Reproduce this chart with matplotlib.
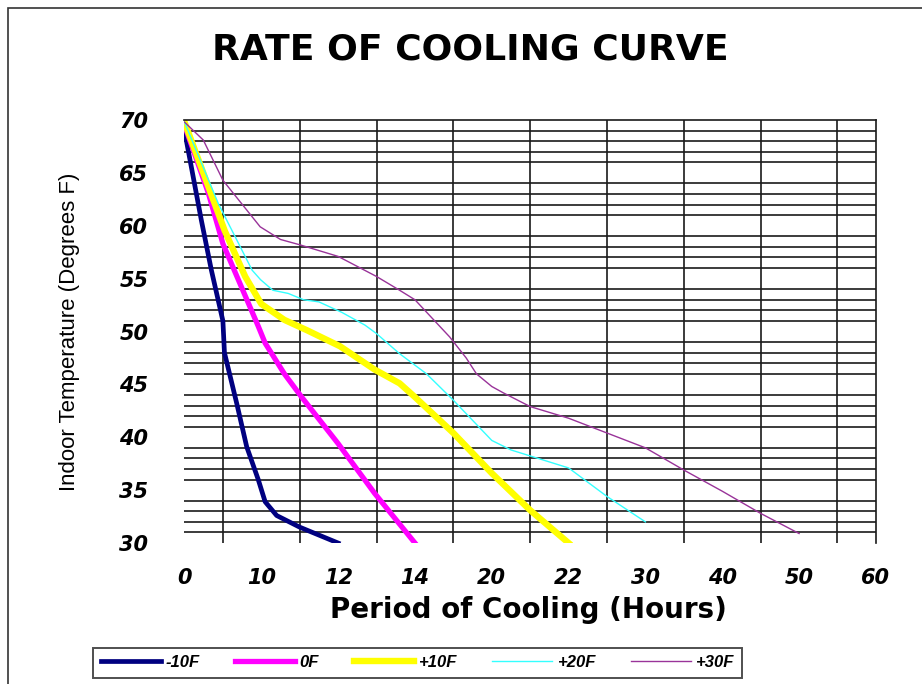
import numpy as np
import matplotlib
matplotlib.use('Agg')
import matplotlib.pyplot as plt
from matplotlib.patches import Rectangle

# x axis labels are not evenly spaced in hours, each label sits two gridlines apart
hour_ticks = [0, 10, 12, 14, 20, 22, 30, 40, 50, 60]
temp_ticks = [70, 65, 60, 55, 50, 45, 40, 35, 30]

labels = ['-10F', '0F', '+10F', '+20F', '+30F']
colors = ['#000080', '#FF00FF', '#FFFF00', '#33FFFF', '#993399']
widths = [3.4, 3.8, 4.6, 1.0, 1.0]

m10_hours = [0, 2.2, 3.5, 5, 5.2, 6.8, 8.1, 9.6, 10.1, 10.4, 11, 11.6, 12]
m10_temp = [69, 60.5, 55.8, 51, 48, 43.2, 39.1, 36, 33.9, 32.6, 31.5, 30.6, 30]

z0_hours = [0, 3.1, 5, 9.6, 10.1, 10.6, 11.05, 12, 12.95, 14]
z0_temp = [69.5, 63.1, 58.3, 50.5, 48.9, 46, 43.8, 39.4, 34.7, 30]

p10_hours = [0, 5.25, 7.9, 10, 10.6, 11.2, 12.05, 12.95, 13.6, 14, 17, 20, 21, 22]
p10_temp = [69.8, 59.5, 55.2, 52.6, 51.1, 50.1, 48.6, 46.4, 45.1, 43.8, 40.4, 36.6, 33.1, 30]

p20_hours = [0, 4.4, 8.8, 9.9, 10.3, 10.7, 11.1, 11.5, 12.1, 12.7, 13, 13.6, 14.9, 17, 20, 20.5, 22, 26, 30]
p20_temp = [69.8, 62.1, 55.8, 54.9, 53.9, 53.6, 53, 52.8, 51.8, 50.6, 49.8, 47.9, 46, 43.5, 39.7, 38.8, 37.1, 34.4, 32]

p30_hours = [0, 2.45, 5, 9.85, 10.5, 11, 12, 13, 13.6, 14, 16.7, 18, 18.8, 20, 20.3, 21, 22, 26, 30, 35, 40, 45, 50]
p30_temp = [69.8, 68.1, 64.3, 59.9, 58.7, 58.2, 57.1, 55.2, 53.9, 53, 49.5, 47.5, 46, 44.8, 44.2, 42.9,
            41.8, 40.4, 39, 36.9, 34.9, 32.8, 30.9]

series = [(m10_hours, m10_temp), (z0_hours, z0_temp), (p10_hours, p10_temp),
          (p20_hours, p20_temp), (p30_hours, p30_temp)]

slots = np.arange(len(hour_ticks))


def to_slot(h):
    return np.interp(h, hour_ticks, slots)


def to_hours(s):
    return np.interp(s, slots, hour_ticks)


def graph():
    fig = plt.figure(figsize=(9.22, 6.84), dpi=100)
    ax = fig.add_axes([0.2001, 0.2061, 0.7499, 0.6185])
    ax.set_xscale('function', functions=(to_slot, to_hours))

    for (h, t), lab, c, w in zip(series, labels, colors, widths):
        ax.plot(h, t, color=c, lw=w, label=lab, solid_joinstyle='round')

    ax.set_xlim(0, 60)
    ax.set_ylim(30, 70)

    # gridlines every half label step on x, every degree on y
    ax.set_xticks(hour_ticks)
    ax.set_xticklabels([str(v) for v in hour_ticks])
    ax.set_xticks(list(to_hours(np.arange(1, 19) / 2.0)), minor=True)
    ax.set_yticks(temp_ticks)
    ax.set_yticks(list(range(31, 71)), minor=True)
    ax.grid(False, which='major')
    ax.grid(True, which='minor', color='#1a1a1a', lw=1.2)
    ax.set_axisbelow(True)
    ax.tick_params(which='both', length=0)
    ax.tick_params(axis='x', pad=18)
    ax.tick_params(axis='y', pad=26)

    for lbl in ax.get_xticklabels() + ax.get_yticklabels():
        lbl.set_fontsize(15)
        lbl.set_fontweight('bold')
        lbl.set_fontstyle('italic')

    ax.spines['left'].set_visible(False)
    ax.spines['bottom'].set_visible(False)
    ax.spines['top'].set_color('#1a1a1a')
    ax.spines['right'].set_color('#1a1a1a')
    ax.spines['top'].set_linewidth(1.2)
    ax.spines['right'].set_linewidth(1.2)

    ax.set_xlabel('Period of Cooling (Hours)', fontsize=20, fontweight='bold')
    ax.xaxis.set_label_coords(0.497, -0.125)
    ax.set_ylabel('Indoor Temperature (Degrees F)', fontsize=16,
                  family=['Liberation Sans', 'DejaVu Sans'])
    ax.yaxis.label.set_va('center')
    ax.yaxis.set_label_coords(-0.1656, 0.5)

    fig.text(0.51, 0.927, 'RATE OF COOLING CURVE', ha='center', va='center',
             fontsize=26, fontweight='bold')

    leg = fig.legend(loc='upper left', bbox_to_anchor=(0.101, 0.053), ncol=5,
                     frameon=True, fancybox=False, handlelength=3.6, handletextpad=0.3,
                     columnspacing=2.1, borderpad=0.45, borderaxespad=0,
                     prop={'family': 'Liberation Sans', 'weight': 'bold',
                           'style': 'italic', 'size': 12})
    leg.get_frame().set_edgecolor('#222222')
    leg.get_frame().set_linewidth(1.4)

    fig.patches.append(Rectangle((8 / 922, -0.1), 1.2, 1 - 8 / 684 + 0.1, transform=fig.transFigure,
                                 fill=False, ec='#333333', lw=1.2))

    fig.savefig('out.png', dpi=100)


if __name__ == '__main__':
    graph()
